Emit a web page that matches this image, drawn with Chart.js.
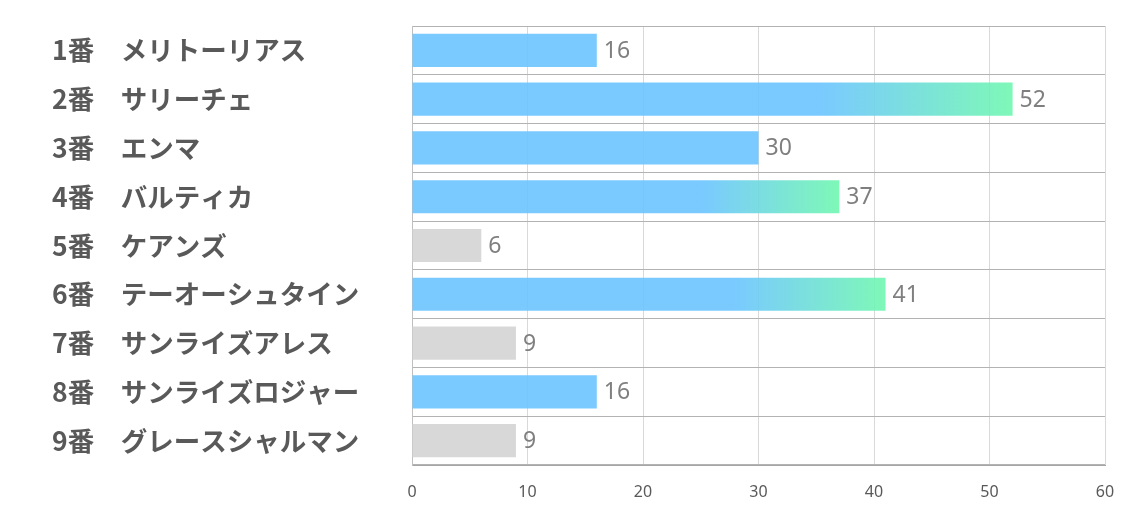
<!DOCTYPE html>
<html>
<head>
<meta charset="utf-8">
<script src="https://cdn.jsdelivr.net/npm/chart.js@4"></script>
<style>
html,body{margin:0;padding:0;background:#fff;}
#wrap{width:1134px;height:510px;}
</style>
</head>
<body>
<div id="wrap"><canvas id="c" width="1134" height="510"></canvas></div>
<script>
const categories = [
  "1番　メリトーリアス",
  "2番　サリーチェ",
  "3番　エンマ",
  "4番　バルティカ",
  "5番　ケアンズ",
  "6番　テーオーシュタイン",
  "7番　サンライズアレス",
  "8番　サンライズロジャー",
  "9番　グレースシャルマン"
];
const values = [16, 52, 30, 37, 6, 41, 9, 16, 9];
const xTicks = [0, 10, 20, 30, 40, 50, 60];

const BLUE = 'rgba(107,196,255,0.9)';
const GREEN = 'rgba(112,247,176,0.9)';
const GRAY = 'rgba(214,214,214,0.95)';

const valueLabels = {
  id: 'valueLabels',
  afterDatasetsDraw(chart) {
    const ctx = chart.ctx;
    const meta = chart.getDatasetMeta(0);
    ctx.save();
    ctx.font = '23px "Noto Sans"';
    ctx.fillStyle = '#7f7f7f';
    ctx.textAlign = 'left';
    ctx.textBaseline = 'middle';
    meta.data.forEach((el, i) => {
      ctx.fillText(String(values[i]), el.x + 7, el.y + 1);
    });
    ctx.restore();
  }
};

new Chart(document.getElementById('c'), {
  type: 'bar',
  data: {
    labels: categories,
    datasets: [{
      data: values,
      backgroundColor: (c) => {
        const v = c.raw;
        const chart = c.chart;
        if (v < 10) return GRAY;
        if (v < 35 || !chart.chartArea) return BLUE;
        const xs = chart.scales.x;
        const g = chart.ctx.createLinearGradient(xs.getPixelForValue(v * 0.68), 0, xs.getPixelForValue(v), 0);
        g.addColorStop(0, BLUE);
        g.addColorStop(1, GREEN);
        return g;
      },
      borderWidth: 0,
      categoryPercentage: 1,
      barPercentage: 0.68
    }]
  },
  options: {
    indexAxis: 'y',
    responsive: false,
    animation: false,
    layout: { padding: { left: 52, right: 29, top: 26, bottom: 0 } },
    plugins: { legend: { display: false }, tooltip: { enabled: false } },
    scales: {
      x: {
        min: 0, max: 60,
        afterBuildTicks: (s) => { s.ticks = xTicks.map(v => ({ value: v })); },
        afterFit: (s) => { s.height = 45; },
        grid: { color: '#d9d9d9', drawTicks: false, lineWidth: 1 },
        border: { color: '#a6a6a6', width: 1 },
        ticks: { padding: 18, color: '#595959', font: { family: '"Noto Sans"', size: 16 } }
      },
      y: {
        afterFit: (s) => { s.width = 360; },
        grid: { color: '#b3b3b3', drawTicks: false, offset: true },
        border: { color: '#bfbfbf', width: 1 },
        ticks: {
          crossAlign: 'far',
          padding: 0,
          color: '#595959',
          font: { family: '"Noto Sans CJK JP"', size: 26.5, weight: 'bold' }
        }
      }
    }
  },
  plugins: [valueLabels]
});
</script>
</body>
</html>
